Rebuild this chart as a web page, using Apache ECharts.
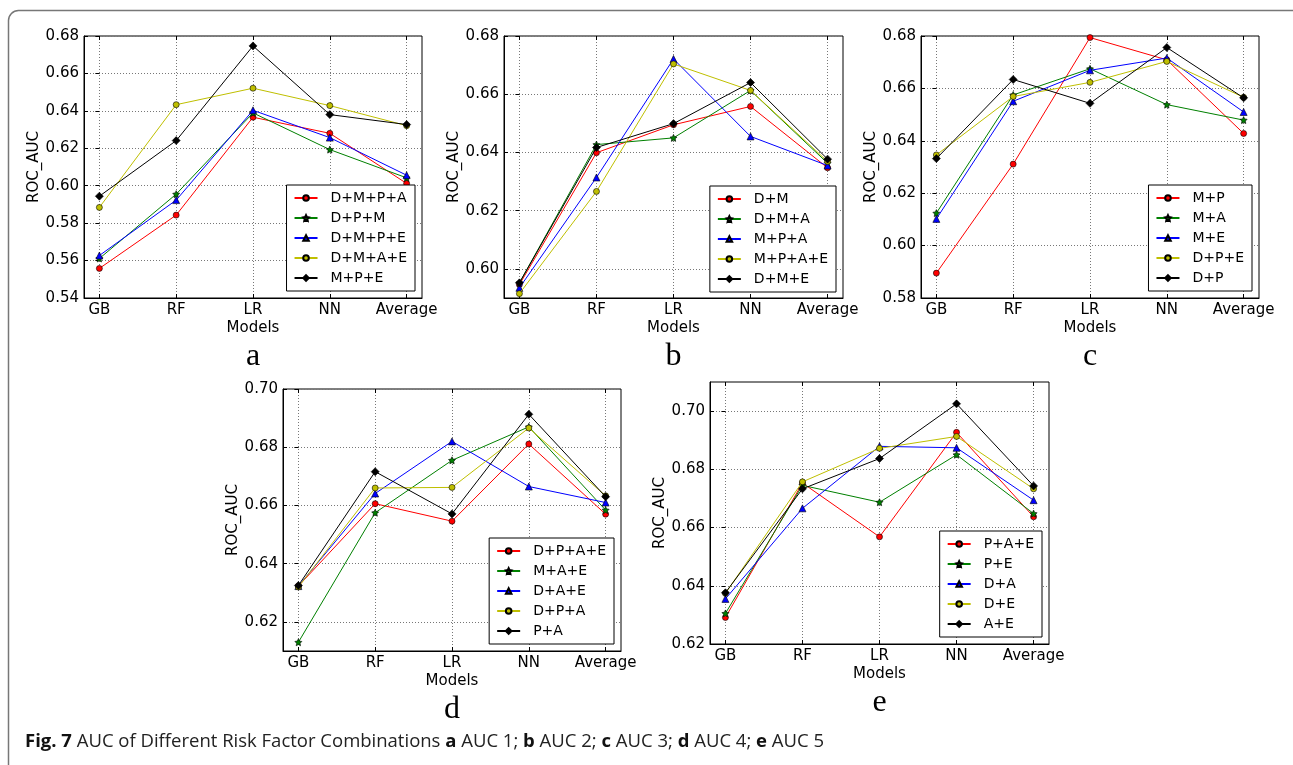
<!DOCTYPE html>
<html>
<head>
<meta charset="utf-8">
<script src="https://cdn.jsdelivr.net/npm/echarts@6/dist/echarts.min.js"></script>
<style>
  html, body { margin: 0; padding: 0; background: #fff; }
  #main { width: 1293px; height: 765px; }
</style>
</head>
<body>
<div id="main"></div>
<script>
// x categories shared by all five panels
var models = ['GB', 'RF', 'LR', 'NN', 'Average'];
var xTicks = [0, 1, 2, 3, 4];

// panel a - AUC 1
var namesA = ['D+M+P+A', 'D+P+M', 'D+M+P+E', 'D+M+A+E', 'M+P+E'];
var redA = [0.5558, 0.5843, 0.6366, 0.6280, 0.6012];
var greenA = [0.5611, 0.5955, 0.6389, 0.6193, 0.6042];
var blueA = [0.5627, 0.5923, 0.6403, 0.6257, 0.6056];
var yellowA = [0.5884, 0.6433, 0.6521, 0.6428, 0.6321];
var blackA = [0.5944, 0.6241, 0.6747, 0.6380, 0.6327];
var yTicksA = [0.54, 0.56, 0.58, 0.60, 0.62, 0.64, 0.66, 0.68];

// panel b - AUC 2
var namesB = ['D+M', 'D+M+A', 'M+P+A', 'M+P+A+E', 'D+M+E'];
var redB = [0.5946, 0.6399, 0.6495, 0.6558, 0.6347];
var greenB = [0.5952, 0.6427, 0.6450, 0.6613, 0.6363];
var blueB = [0.5935, 0.6314, 0.6721, 0.6455, 0.6355];
var yellowB = [0.5915, 0.6266, 0.6704, 0.6613, 0.6369];
var blackB = [0.5952, 0.6417, 0.6499, 0.6640, 0.6377];
var yTicksB = [0.60, 0.62, 0.64, 0.66, 0.68];

// panel c - AUC 3
var namesC = ['M+P', 'M+A', 'M+E', 'D+P+E', 'D+P'];
var redC = [0.5895, 0.6311, 0.6794, 0.6709, 0.6428];
var greenC = [0.6124, 0.6575, 0.6675, 0.6538, 0.6479];
var blueC = [0.6102, 0.6551, 0.6669, 0.6716, 0.6510];
var yellowC = [0.6346, 0.6569, 0.6623, 0.6703, 0.6566];
var blackC = [0.6332, 0.6634, 0.6543, 0.6756, 0.6564];
var yTicksC = [0.58, 0.60, 0.62, 0.64, 0.66, 0.68];

// panel d - AUC 4
var namesD = ['D+P+A+E', 'M+A+E', 'D+A+E', 'D+P+A', 'P+A'];
var redD = [0.6323, 0.6606, 0.6546, 0.6811, 0.6570];
var greenD = [0.6130, 0.6575, 0.6755, 0.6870, 0.6584];
var blueD = [0.6323, 0.6641, 0.6820, 0.6665, 0.6610];
var yellowD = [0.6320, 0.6660, 0.6662, 0.6866, 0.6633];
var blackD = [0.6325, 0.6716, 0.6571, 0.6913, 0.6630];
var yTicksD = [0.62, 0.64, 0.66, 0.68, 0.70];

// panel e - AUC 5
var namesE = ['P+A+E', 'P+E', 'D+A', 'D+E', 'A+E'];
var redE = [0.6291, 0.6753, 0.6568, 0.6927, 0.6637];
var greenE = [0.6305, 0.6745, 0.6687, 0.6850, 0.6648];
var blueE = [0.6355, 0.6666, 0.6879, 0.6874, 0.6694];
var yellowE = [0.6374, 0.6757, 0.6872, 0.6913, 0.6733];
var blackE = [0.6376, 0.6733, 0.6837, 0.7025, 0.6743];
var yTicksE = [0.62, 0.64, 0.66, 0.68, 0.70];

var starPath = 'path://M0,-10L2.94,-4.05L9.51,-3.09L4.76,1.55L5.88,8.09L0,5L-5.88,8.09L-4.76,1.55L-9.51,-3.09L-2.94,-4.05Z';
var looks = [
  { color: '#ff0000', symbol: 'circle', size: 6 },
  { color: '#008000', symbol: starPath, size: 7 },
  { color: '#0000ff', symbol: 'triangle', size: 7 },
  { color: '#bfbf00', symbol: 'circle', size: 6 },
  { color: '#000000', symbol: 'diamond', size: 8 }
];

var panels = [
  { names: namesA, data: [redA, greenA, blueA, yellowA, blackA], yTicks: yTicksA, yMin: 0.54, yMax: 0.68,
    grid: { left: 84, top: 36, width: 338, height: 262 }, legend: { right: 878, bottom: 474 }, letter: 'a' },
  { names: namesB, data: [redB, greenB, blueB, yellowB, blackB], yTicks: yTicksB, yMin: 0.59, yMax: 0.68,
    grid: { left: 504, top: 36, width: 339, height: 262 }, legend: { right: 457, bottom: 473 }, letter: 'b' },
  { names: namesC, data: [redC, greenC, blueC, yellowC, blackC], yTicks: yTicksC, yMin: 0.58, yMax: 0.68,
    grid: { left: 921, top: 36, width: 338, height: 262 }, legend: { right: 41, bottom: 474 }, letter: 'c' },
  { names: namesD, data: [redD, greenD, blueD, yellowD, blackD], yTicks: yTicksD, yMin: 0.61, yMax: 0.70,
    grid: { left: 283, top: 389, width: 338, height: 262 }, legend: { right: 679, bottom: 121 }, letter: 'd' },
  { names: namesE, data: [redE, greenE, blueE, yellowE, blackE], yTicks: yTicksE, yMin: 0.62, yMax: 0.71,
    grid: { left: 710, top: 382, width: 339, height: 262 }, legend: { right: 251, bottom: 128 }, letter: 'e' }
];

var tickFont = 'DejaVu Sans';
var grids = [], xAxes = [], yAxes = [], legends = [], series = [], graphics = [];
var dotted = { show: true, lineStyle: { color: '#777', width: 1, type: [1, 2] } };

panels.forEach(function (p, gi) {
  grids.push({
    left: p.grid.left, top: p.grid.top, width: p.grid.width, height: p.grid.height,
    show: true, borderColor: '#000', borderWidth: 1, backgroundColor: '#fff'
  });
  xAxes.push({
    type: 'value', gridIndex: gi, min: -0.2, max: 4.2,
    name: 'Models', nameLocation: 'middle', nameGap: 23,
    nameTextStyle: { fontFamily: tickFont, fontSize: 15, color: '#000' },
    axisLine: { show: true, onZero: false, lineStyle: { color: '#000', width: 1 } },
    axisTick: { show: true, inside: true, length: 4, customValues: xTicks, lineStyle: { color: '#000' } },
    axisLabel: {
      customValues: xTicks, margin: 5, color: '#000', fontFamily: tickFont, fontSize: 15,
      formatter: function (v) { return models[Math.round(v)]; }
    },
    splitLine: dotted
  });
  yAxes.push({
    type: 'value', gridIndex: gi, min: p.yMin, max: p.yMax,
    name: 'ROC_AUC', nameLocation: 'middle', nameGap: 42, nameRotate: 90,
    nameTextStyle: { fontFamily: tickFont, fontSize: 15, color: '#000' },
    axisLine: { show: true, onZero: false, lineStyle: { color: '#000', width: 1 } },
    axisTick: { show: true, inside: true, length: 4, customValues: p.yTicks, lineStyle: { color: '#000' } },
    axisLabel: {
      customValues: p.yTicks, margin: 5, color: '#000', fontFamily: tickFont, fontSize: 15,
      formatter: function (v) { return v.toFixed(2); }
    },
    splitLine: dotted
  });
  legends.push({
    data: p.names, orient: 'vertical', right: p.legend.right, bottom: p.legend.bottom,
    backgroundColor: '#fff', borderColor: '#000', borderWidth: 1, borderRadius: 0,
    padding: [6, 8, 6, 7], itemGap: 6, itemWidth: 23, itemHeight: 7,
    selectedMode: false,
    textStyle: { fontFamily: tickFont, fontSize: 14, color: '#000', lineHeight: 14, padding: [0, 0, 0, 8] }
  });
  p.names.forEach(function (nm, si) {
    var lk = looks[si];
    series.push({
      name: nm, type: 'line', xAxisIndex: gi, yAxisIndex: gi,
      data: p.data[si].map(function (v, i) { return [xTicks[i], v]; }),
      symbol: lk.symbol, symbolSize: lk.size, showSymbol: true,
      lineStyle: { color: lk.color, width: 1 },
      itemStyle: { color: lk.color, borderColor: '#000', borderWidth: 0.6 },
      emphasis: { disabled: true }, animation: false, z: 2 + si
    });
  });
  graphics.push({
    type: 'text', x: p.grid.left + p.grid.width / 2, y: p.grid.top + p.grid.height + 59,
    style: { text: p.letter, font: '32px "Liberation Serif"', fill: '#000', align: 'center', verticalAlign: 'middle' }
  });
});

// inward ticks on the top and right edges, as matplotlib draws them
panels.forEach(function (p, gi) {
  xAxes.push({
    type: 'value', gridIndex: gi, min: -0.2, max: 4.2, position: 'top',
    axisLine: { show: false },
    axisTick: { show: true, inside: true, length: 4, customValues: xTicks, lineStyle: { color: '#000' } },
    axisLabel: { show: false }, splitLine: { show: false }
  });
  yAxes.push({
    type: 'value', gridIndex: gi, min: p.yMin, max: p.yMax, position: 'right',
    axisLine: { show: false },
    axisTick: { show: true, inside: true, length: 4, customValues: p.yTicks, lineStyle: { color: '#000' } },
    axisLabel: { show: false }, splitLine: { show: false }
  });
});

// frame around the figure (only top and left visible in the crop)
graphics.push({
  type: 'rect', shape: { x: 8.5, y: 10.5, width: 1400, height: 900, r: 10 },
  style: { fill: null, stroke: '#777', lineWidth: 1.5 }, z: -10
});
graphics.push({
  type: 'text', x: 25, y: 742,
  style: {
    text: '{b|Fig. 7} AUC of Different Risk Factor Combinations {b|a} AUC 1; {b|b} AUC 2; {b|c} AUC 3; {b|d} AUC 4; {b|e} AUC 5',
    rich: { b: { fontWeight: 'bold', fontFamily: 'Open Sans', fontSize: 18.5, fill: '#111' } },
    fontFamily: 'Open Sans', fontSize: 18.5, fill: '#222', verticalAlign: 'middle'
  }
});

var myChart = echarts.init(document.getElementById('main'));
myChart.setOption({
  backgroundColor: '#fff',
  animation: false,
  grid: grids,
  xAxis: xAxes,
  yAxis: yAxes,
  legend: legends,
  series: series,
  graphic: graphics
});
</script>
</body>
</html>
